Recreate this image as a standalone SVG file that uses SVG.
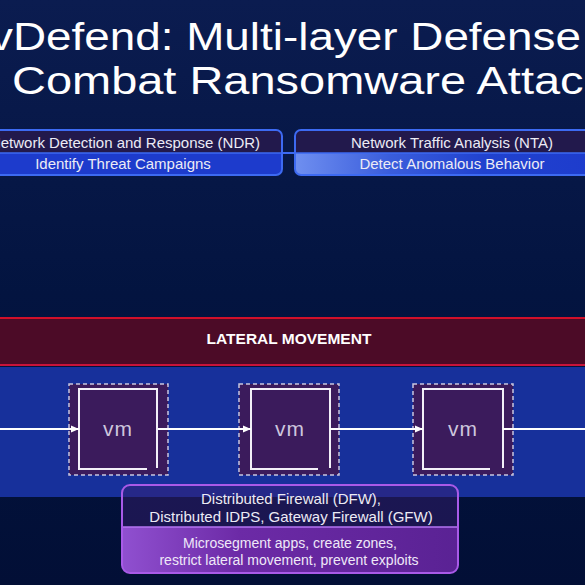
<svg xmlns="http://www.w3.org/2000/svg" width="585" height="585" viewBox="0 0 585 585">
  <defs>
    <linearGradient id="bg" x1="0" y1="0" x2="0" y2="1">
      <stop offset="0" stop-color="#0b1c50"/>
      <stop offset="0.5" stop-color="#031440"/>
      <stop offset="1" stop-color="#020f36"/>
    </linearGradient>
    <linearGradient id="ntaLow" x1="0" y1="0" x2="1" y2="0">
      <stop offset="0" stop-color="#6f8ff0"/>
      <stop offset="0.3" stop-color="#3a5ddc"/>
      <stop offset="0.6" stop-color="#2142cf"/>
      <stop offset="1" stop-color="#1d3bcc"/>
    </linearGradient>
    <linearGradient id="dfwLow" x1="0" y1="0" x2="1" y2="0">
      <stop offset="0" stop-color="#9050d0"/>
      <stop offset="0.35" stop-color="#6c2aa6"/>
      <stop offset="1" stop-color="#5a2294"/>
    </linearGradient>
    <marker id="arr" viewBox="0 0 8 8" refX="8" refY="4" markerWidth="8" markerHeight="8" markerUnits="userSpaceOnUse" orient="auto">
      <path d="M0,0.5 L8,4 L0,7.5 Z" fill="#ffffff"/>
    </marker>
    <clipPath id="dfwTop"><rect x="122" y="485" width="336" height="42"/></clipPath>
    <clipPath id="dfwBot"><rect x="122" y="527" width="336" height="46"/></clipPath>
  </defs>
  <style>
    .title { font-family: "Liberation Sans", Arial, sans-serif; font-size: 38px; fill: #ffffff; }
    .lbl { font-family: "Liberation Sans", Arial, sans-serif; font-size: 15px; fill: #ecebf5; text-anchor: middle; }
    .lbl14 { font-family: "Liberation Sans", Arial, sans-serif; font-size: 14px; fill: #efe8f8; text-anchor: middle; }
    .band { font-family: "Liberation Sans", Arial, sans-serif; font-size: 15.5px; font-weight: bold; fill: #ffffff; text-anchor: middle; }
    .vmt { font-family: "Liberation Sans", Arial, sans-serif; font-size: 21px; fill: #cdc6de; text-anchor: middle; letter-spacing: 1px; }
    .dash { fill: #3b1b5c; stroke: #c9c6e0; stroke-width: 1.5; stroke-dasharray: 4 3; }
    .inner { fill: none; stroke: #f2f0f8; stroke-width: 2; }
    .bluebox { stroke: #3d6af2; stroke-width: 2; }
    .conn { stroke: #ffffff; stroke-width: 2; fill: none; }
  </style>

  <rect width="585" height="585" fill="url(#bg)"/>

  <!-- title -->
  <text class="title" x="-10" y="50" textLength="591" lengthAdjust="spacingAndGlyphs">vDefend: Multi-layer Defense</text>
  <text class="title" x="12" y="94" textLength="595" lengthAdjust="spacingAndGlyphs">Combat Ransomware Attack</text>

  <!-- lateral movement band -->
  <g id="lateral">
    <rect x="0" y="318" width="585" height="48" fill="#4c0b27"/>
    <line x1="0" y1="318" x2="585" y2="318" stroke="#d0102a" stroke-width="2"/>
    <line x1="0" y1="365" x2="585" y2="365" stroke="#c8143a" stroke-width="2"/>
    <text class="band" x="289" y="344">LATERAL MOVEMENT</text>
  </g>

  <!-- blue workload band -->
  <rect x="0" y="367" width="585" height="130" fill="#17309b"/>

  <!-- NDR -->
  <g id="ndr">
    <rect x="-34" y="130" width="316" height="45" rx="6" fill="#22194c"/>
    <path d="M-34,153 H282 V169 a6,6 0 0 1 -6,6 H-28 a6,6 0 0 1 -6,-6 Z" fill="#1d3bcc"/>
    <rect class="bluebox" x="-34" y="130" width="316" height="45" rx="6" fill="none"/>
    <line x1="-34" y1="153" x2="282" y2="153" stroke="#3d6af2" stroke-width="1.5"/>
    <text class="lbl" x="125" y="148">Network Detection and Response (NDR)</text>
    <text class="lbl" x="123" y="169">Identify Threat Campaigns</text>
  </g>

  <!-- NTA -->
  <g id="nta">
    <rect x="295" y="130" width="314" height="45" rx="6" fill="#22194c"/>
    <path d="M295,153 H609 V169 a6,6 0 0 1 -6,6 H301 a6,6 0 0 1 -6,-6 Z" fill="url(#ntaLow)"/>
    <rect class="bluebox" x="295" y="130" width="314" height="45" rx="6" fill="none"/>
    <line x1="295" y1="153" x2="609" y2="153" stroke="#3d6af2" stroke-width="1.5"/>
    <text class="lbl" x="452" y="148">Network Traffic Analysis (NTA)</text>
    <text class="lbl" x="452" y="169">Detect Anomalous Behavior</text>
  </g>

  <!-- VMs -->
  <g id="vm1">
    <rect class="dash" x="69" y="384" width="99" height="91"/>
    <path class="inner" d="M147,469 H79 V389 H157 V468"/>
    <text class="vmt" x="118" y="436">vm</text>
  </g>
  <g id="vm2">
    <rect class="dash" x="239" y="384" width="100" height="91"/>
    <path class="inner" d="M318,469 H251 V389 H330 V468"/>
    <text class="vmt" x="290" y="436">vm</text>
  </g>
  <g id="vm3">
    <rect class="dash" x="413" y="384" width="100" height="91"/>
    <path class="inner" d="M490,469 H423 V389 H503 V468"/>
    <text class="vmt" x="463" y="436">vm</text>
  </g>

  <!-- connectors -->
  <g id="connectors">
    <line x1="282" y1="153" x2="295" y2="153" stroke="#3d6af2" stroke-width="2"/>
    <line class="conn" x1="0" y1="429" x2="79" y2="429" marker-end="url(#arr)"/>
    <line class="conn" x1="158" y1="429" x2="251" y2="429" marker-end="url(#arr)"/>
    <line class="conn" x1="330" y1="429" x2="423" y2="429" marker-end="url(#arr)"/>
    <line class="conn" x1="503" y1="429" x2="585" y2="429"/>
  </g>

  <!-- DFW -->
  <g id="dfw">
    <rect x="122" y="485" width="336" height="88" rx="8" fill="#3a2070" fill-opacity="0.45" clip-path="url(#dfwTop)"/>
    <rect x="122" y="485" width="336" height="88" rx="8" fill="url(#dfwLow)" clip-path="url(#dfwBot)"/>
    <line x1="122" y1="527" x2="458" y2="527" stroke="#b575f2" stroke-width="1.5"/>
    <rect x="122" y="485" width="336" height="88" rx="8" fill="none" stroke="#a95ae8" stroke-width="2"/>
    <text class="lbl" x="291" y="504">Distributed Firewall (DFW),</text>
    <text class="lbl" x="291" y="522">Distributed IDPS, Gateway Firewall (GFW)</text>
    <text class="lbl14" x="290" y="548">Microsegment apps, create zones,</text>
    <text class="lbl14" x="289" y="565">restrict lateral movement, prevent exploits</text>
  </g>
</svg>
